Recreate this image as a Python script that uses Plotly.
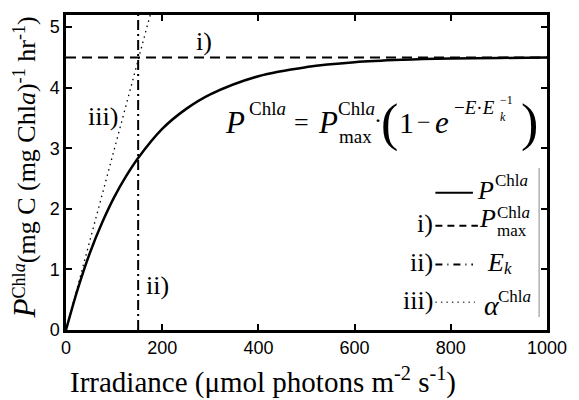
import plotly.graph_objects as go

# ---- data ----
irradiance = [0, 25, 50, 75, 100, 125, 150, 200, 250, 300, 400, 500, 600, 700, 800, 900, 1000]
p_chla = [0, 0.69, 1.28, 1.77, 2.19, 2.54, 2.84, 3.32, 3.65, 3.89, 4.19, 4.34, 4.42, 4.46, 4.48, 4.49, 4.50]
pmax_x = [0, 1000]
pmax_y = [4.5, 4.5]
ek_x = [150, 150]
ek_y = [0, 5.2]
alpha_x = [0, 175]
alpha_y = [0, 5.2]
x_ticks = [0, 200, 400, 600, 800, 1000]
y_ticks = [0, 1, 2, 3, 4, 5]

W, H = 579, 400
L, R, T, B = 66, 26, 13, 70
PW, PH = W - L - R, H - T - B

def px(x):
    return (x - L) / PW

def py(y):
    return (H - B - y) / PH

SERIF = "Liberation Serif"
SANS = "Liberation Sans"

fig = go.Figure()
fig.add_trace(go.Scatter(x=irradiance, y=p_chla, mode="lines", line=dict(color="black", width=2.5, shape="spline"), hoverinfo="skip"))
fig.add_trace(go.Scatter(x=pmax_x, y=pmax_y, mode="lines", line=dict(color="black", width=2, dash="10px,6px"), hoverinfo="skip"))
fig.add_trace(go.Scatter(x=ek_x, y=ek_y, mode="lines", line=dict(color="black", width=2, dash="10px,4px,2px,4px"), hoverinfo="skip"))
fig.add_trace(go.Scatter(x=alpha_x, y=alpha_y, mode="lines", line=dict(color="black", width=1.3, dash="1.5px,4px"), hoverinfo="skip"))

ann = []
def A(text, x, y, size, xanchor="left", yanchor="middle", font=SERIF):
    ann.append(dict(text=text, x=px(x), y=py(y), xref="paper", yref="paper", showarrow=False,
                    xanchor=xanchor, yanchor=yanchor, borderpad=0, borderwidth=0,
                    font=dict(family=font, size=size, color="black")))

# in-plot labels
A("i)", 206, 40, 26, xanchor="center")
A("ii)", 159, 285, 26, xanchor="center")
A("iii)", 103, 115, 26, xanchor="center")

# equation
A("<i>P</i>", 227, 121, 31)
A("Chl<i>a</i>", 251, 107, 19)
A("=", 304, 121, 26, xanchor="center")
A("<i>P</i>", 321, 121, 31)
A("Chl<i>a</i>", 341, 107, 19)
A("max", 342, 135, 19)
A("·", 382, 119, 24, xanchor="center")
A("(", 394, 122, 52, xanchor="center")
A("1", 403, 121, 30)
A("−", 428, 121, 24, xanchor="center")
A("<i>e</i>", 440, 121, 31)
A("−<i>E</i>·<i>E</i>", 459, 106, 19)
A("−1", 505, 99, 12)
A("<i>k</i>", 505, 116, 12)
A(")", 535, 122, 52, xanchor="center")

# legend
rows = [192, 225, 264, 302]
A("<i>P</i>", 482, 190, 26)
A("Chl<i>a</i>", 500, 180, 17)
A("i)", 438, rows[1] - 2, 26, xanchor="right")
A("<i>P</i>", 484, 218, 26)
A("Chl<i>a</i>", 502, 212, 17)
A("max", 502, 230, 17)
A("ii)", 438, rows[2] - 2, 26, xanchor="right")
A("<i>E</i>", 492, 262, 26)
A("<i>k</i>", 509, 268, 17)
A("iii)", 438, rows[3] - 2, 26, xanchor="right")
A("<i>α</i>", 489, 305, 28)
A("Chl<i>a</i>", 503, 296, 17)

# axis titles
A("Irradiance (μmol photons m<sup>-2</sup> s<sup>-1</sup>)", 265, 381, 29, xanchor="center")
ann.append(dict(text="<span style='font-size:31px'><i>P</i></span><sup>Chl<i>a</i></sup>(mg C (mg Chl<i>a</i>)<sup>-1</sup> hr<sup>-1</sup>)",
                x=px(24), y=py(167), xref="paper", yref="paper", showarrow=False, textangle=-90,
                xanchor="center", yanchor="middle", borderpad=0,
                font=dict(family=SERIF, size=26, color="black")))

shapes = [
    dict(type="line", xref="paper", yref="paper", x0=px(440), x1=px(478), y0=py(rows[0]), y1=py(rows[0]), line=dict(color="black", width=2)),
    dict(type="line", xref="paper", yref="paper", x0=px(440), x1=px(483), y0=py(rows[1]), y1=py(rows[1]), line=dict(color="black", width=2, dash="7px,5px")),
    dict(type="line", xref="paper", yref="paper", x0=px(440), x1=px(478), y0=py(rows[2]), y1=py(rows[2]), line=dict(color="black", width=2, dash="7px,5px,1px,5px")),
    dict(type="line", xref="paper", yref="paper", x0=px(440), x1=px(480), y0=py(rows[3]), y1=py(rows[3]), line=dict(color="black", width=1, dash="1.5px,4px")),
    dict(type="line", xref="paper", yref="paper", x0=px(545), x1=px(545), y0=py(167), y1=py(317), line=dict(color="#888", width=1)),
]

axis_common = dict(showline=True, linecolor="black", linewidth=2.5, mirror="ticks", ticks="inside",
                   ticklen=6, tickwidth=1.5, tickcolor="black", showgrid=False, zeroline=False,
                   tickfont=dict(family=SANS, size=18, color="black"))

fig.update_layout(
    width=W, height=H, margin=dict(l=L, r=R, t=T, b=B),
    paper_bgcolor="white", plot_bgcolor="white", showlegend=False,
    xaxis=dict(range=[0, 1000], tickvals=x_ticks, **axis_common),
    yaxis=dict(range=[0, 5.2], tickvals=y_ticks, **axis_common),
    annotations=ann, shapes=shapes,
)
fig.write_html("out.html")
